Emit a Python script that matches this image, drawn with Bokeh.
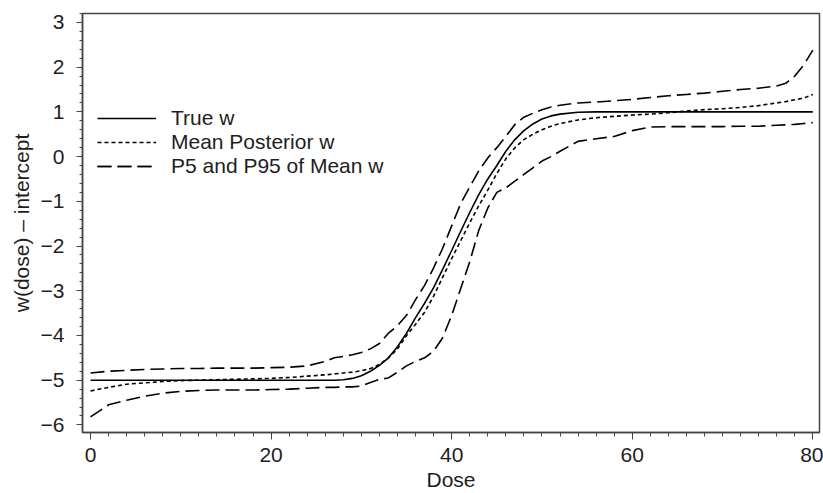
from bokeh.plotting import figure
from bokeh.models import (Range1d, SingleIntervalTicker, CustomJSTickFormatter, Legend, LegendItem)
from bokeh.embed import file_html
from bokeh.resources import INLINE

dose = [0, 2, 4, 6, 8, 10, 12, 14, 16, 18, 20, 22, 24, 26,
        27, 28, 29, 30, 31, 32, 33, 34, 35, 36, 37, 38, 39, 40, 41, 42, 43, 44, 45, 46,
        47, 48, 49, 50, 51, 52,
        54, 56, 58, 60, 62, 64, 66, 68, 70, 72, 74, 76,
        77, 78, 79, 80]

true_w = [-5.0, -5.0, -5.0, -5.0, -5.0, -5.0, -5.0, -5.0, -5.0, -5.0, -5.0, -5.0, -5.0, -5.0,
          -5.0, -4.99, -4.96, -4.9, -4.8, -4.67, -4.5, -4.25, -3.95, -3.6, -3.28, -2.93, -2.52, -2.1,
          -1.67, -1.25, -0.85, -0.5, -0.2, 0.12, 0.38, 0.58, 0.73, 0.84, 0.91, 0.95,
          0.99, 1.0, 1.0, 1.0, 1.0, 1.0, 1.0, 1.0, 1.0, 1.0, 1.0, 1.0,
          1.0, 1.0, 1.0, 1.0]

mean_w = [-5.24, -5.16, -5.09, -5.06, -5.03, -5.01, -5.0, -4.99, -4.98, -4.97, -4.96, -4.94, -4.91, -4.88,
          -4.86, -4.84, -4.82, -4.79, -4.74, -4.65, -4.5, -4.3, -4.0, -3.75, -3.48, -3.12, -2.7, -2.28,
          -1.88, -1.48, -1.1, -0.75, -0.38, -0.05, 0.2, 0.38, 0.5, 0.6, 0.68, 0.74,
          0.82, 0.87, 0.9, 0.93, 0.95, 0.98, 1.02, 1.05, 1.07, 1.1, 1.14, 1.2,
          1.23, 1.27, 1.31, 1.39]

p95_w = [-4.84, -4.8, -4.78, -4.76, -4.75, -4.74, -4.74, -4.73, -4.73, -4.73, -4.72, -4.71, -4.68, -4.58,
         -4.5, -4.47, -4.43, -4.38, -4.3, -4.18, -3.95, -3.78, -3.55, -3.2, -2.88, -2.49, -2.05, -1.55,
         -1.05, -0.68, -0.32, -0.03, 0.2, 0.45, 0.72, 0.88, 0.97, 1.05, 1.11, 1.15,
         1.2, 1.22, 1.25, 1.28, 1.32, 1.36, 1.39, 1.42, 1.46, 1.5, 1.53, 1.58,
         1.64, 1.8, 2.05, 2.38]

p5_w = [-5.82, -5.55, -5.45, -5.36, -5.29, -5.25, -5.23, -5.22, -5.22, -5.22, -5.21, -5.2, -5.18, -5.16,
        -5.16, -5.15, -5.15, -5.13, -5.05, -4.98, -4.95, -4.82, -4.68, -4.58, -4.5, -4.35, -4.05, -3.55,
        -2.95, -2.35, -1.65, -1.15, -0.8, -0.7, -0.55, -0.4, -0.25, -0.1, 0.0, 0.12,
        0.34, 0.4, 0.45, 0.58, 0.66, 0.67, 0.67, 0.67, 0.67, 0.68, 0.68, 0.7,
        0.71, 0.72, 0.74, 0.76]

labels = ["True w", "Mean Posterior w", "P5 and P95 of Mean w"]
x_title = "Dose"
y_title = "w(dose) \u2013 intercept"

FONT = "Liberation Sans"
TXT = "#1e1e1e"
AX = "#444444"

p = figure(width=823, height=493, output_backend="svg", toolbar_location=None,
           x_range=Range1d(-0.89, 80.74), y_range=Range1d(-6.17, 3.2),
           min_border_left=82, min_border_right=4, min_border_top=13, min_border_bottom=60)

p.xgrid.visible = False
p.ygrid.visible = False
p.outline_line_color = AX
p.outline_line_width = 1.5
p.background_fill_color = "white"
p.border_fill_color = "white"

fmt = CustomJSTickFormatter(code="return (tick < 0 ? '\u2212' : '') + Math.abs(tick).toFixed(0);")

p.xaxis.ticker = SingleIntervalTicker(interval=20, num_minor_ticks=10)
p.yaxis.ticker = SingleIntervalTicker(interval=1, num_minor_ticks=5)
p.yaxis.formatter = fmt
p.xaxis.axis_label = x_title
p.yaxis.axis_label = y_title

for ax in (p.xaxis[0], p.yaxis[0]):
    ax.axis_line_color = AX
    ax.axis_line_width = 1.5
    ax.major_tick_line_color = AX
    ax.minor_tick_line_color = AX
    ax.major_tick_line_width = 1
    ax.minor_tick_line_width = 1
    ax.major_tick_in = 0
    ax.minor_tick_in = 0
    ax.major_label_text_font = FONT
    ax.major_label_text_font_size = "21px"
    ax.major_label_text_color = TXT
    ax.axis_label_text_font = FONT
    ax.axis_label_text_font_size = "21px"
    ax.axis_label_text_font_style = "normal"
    ax.axis_label_text_color = TXT

p.xaxis.major_tick_out = 7
p.xaxis.minor_tick_out = 4
p.yaxis.major_tick_out = 6
p.yaxis.minor_tick_out = 3
p.xaxis.major_label_standoff = 8
p.yaxis.major_label_standoff = 12
p.xaxis.axis_label_standoff = 3
p.yaxis.axis_label_standoff = 5

r_true = p.line(dose, true_w, line_color="black", line_width=1.6)
r_mean = p.line(dose, mean_w, line_color="black", line_width=1.6, line_dash="4 3")
r_p95 = p.line(dose, p95_w, line_color="black", line_width=1.6, line_dash="14 6")
r_p5 = p.line(dose, p5_w, line_color="black", line_width=1.6, line_dash="14 6")

legend = Legend(items=[LegendItem(label=labels[0], renderers=[r_true]),
                       LegendItem(label=labels[1], renderers=[r_mean]),
                       LegendItem(label=labels[2], renderers=[r_p95, r_p5])],
                location=(15, 254), border_line_color=None, background_fill_alpha=0,
                padding=0, margin=0, spacing=0, glyph_width=59, glyph_height=20,
                label_height=20, label_standoff=15,
                label_text_font=FONT, label_text_font_size="21px", label_text_color=TXT)
p.add_layout(legend)

open("out.html", "w").write(file_html(p, INLINE))
